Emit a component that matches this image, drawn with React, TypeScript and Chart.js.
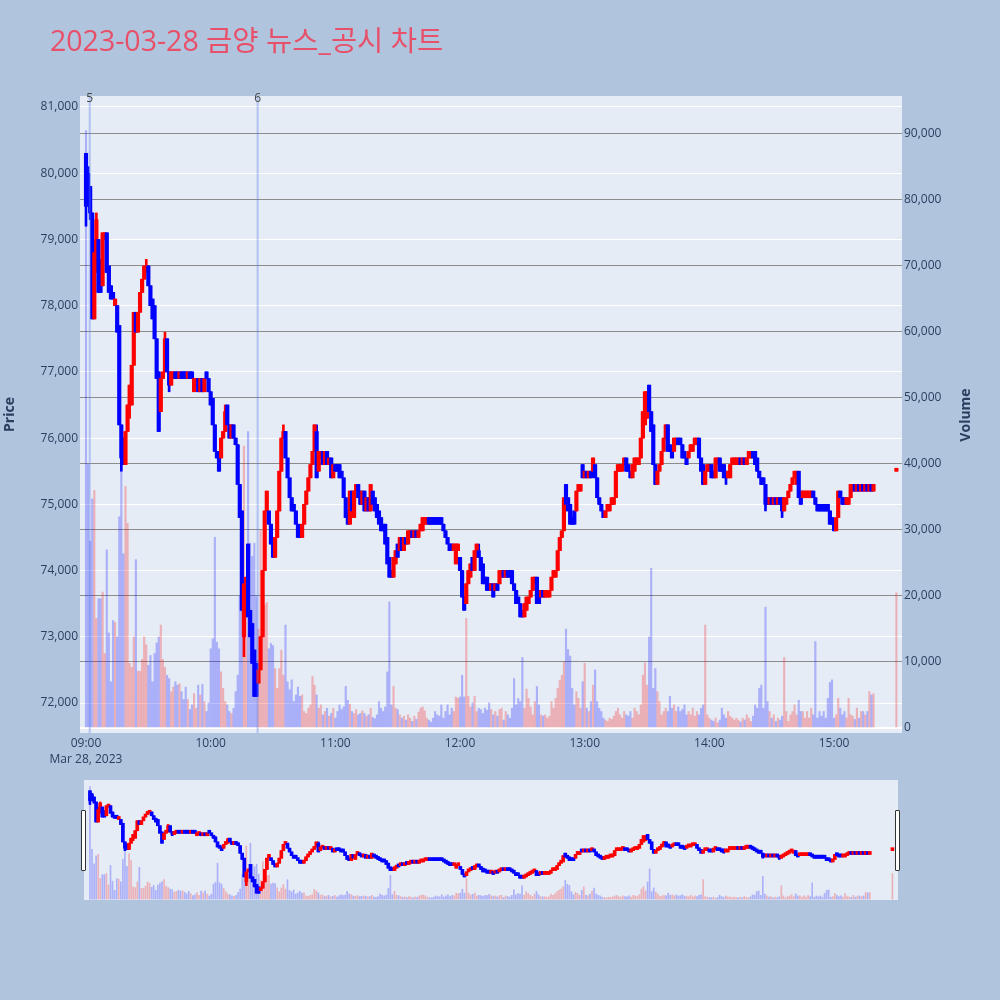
import React, { useEffect, useRef } from 'react';
import { Chart, registerables } from 'chart.js';

Chart.register(...registerables);

const TITLE = '2023-03-28 금양 뉴스_공시 차트';
const DATE_LABEL = 'Mar 28, 2023';
const PRICE_UNIT = 100; // prices below are stored in units of 100 KRW

// minutes after 09:00 (continuous session 09:00-15:19, closing auction at 15:30)
const minutesFromOpen: number[] = [...Array.from({ length: 380 }, (_, i) => i), 390];

const opens = [
  803,800,798,794,778,786,790,787,783,790, 791,786,783,782,780,780,777,762,760,756,
  761,765,765,771,779,776,779,782,784,785, 786,783,781,780,775,770,764,769,770,775,
  770,768,769,770,770,769,770,770,770,769, 770,770,767,768,769,767,769,767,770,769,
  767,766,762,758,758,757,760,761,765,762, 760,762,760,759,753,749,730,738,744,734,
  732,728,726,723,725,730,740,749,749,747, 744,742,745,749,755,760,761,757,754,751,
  750,749,747,746,745,747,750,752,754,756, 758,761,755,757,758,756,758,756,757,754,
  756,756,756,755,754,751,749,747,752,748, 752,753,752,750,752,749,751,749,752,751,
  750,749,748,747,747,745,742,740,739,741, 744,743,745,743,745,744,745,746,745,746,
  745,746,746,747,747,748,748,748,748,748, 748,748,747,746,745,744,744,743,741,743,
  742,740,736,735,738,739,742,740,742,743, 742,741,739,739,738,737,738,737,738,738,
  739,740,739,740,740,740,738,737,736,735, 734,733,734,735,736,737,738,739,737,736,
  737,736,736,736,737,739,739,740,743,745, 746,753,751,750,748,749,749,752,752,756,
  754,755,754,755,755,756,754,751,750,749, 748,749,749,750,750,751,755,755,755,756,
  757,756,755,754,755,756,756,757,760,762, 763,768,764,762,756,753,755,756,758,760,
  762,759,758,758,759,760,760,759,758,757, 757,758,758,759,759,760,757,756,753,755,
  755,756,755,754,756,757,756,756,755,754, 754,756,756,756,756,757,756,757,756,757,
  757,758,758,757,755,754,754,753,751,750, 751,750,751,750,751,751,749,750,751,752,
  753,754,753,755,752,751,751,751,751,751, 752,751,750,750,750,750,750,750,749,748,
  747,746,748,752,751,751,750,750,751,752, 753,752,753,752,753,752,753,752,753,752,
  755,
];

const highs = [
  803,801,798,794,790,794,790,787,791,791, 791,786,783,782,781,780,777,762,760,761,
  765,768,771,779,779,779,782,784,786,787, 786,783,781,780,775,770,769,770,776,775,
  770,770,770,770,770,770,770,770,770,770, 770,770,769,769,769,769,769,769,770,769,
  767,766,762,758,758,760,761,765,765,762, 762,762,760,759,753,749,738,739,744,734,
  732,728,726,725,730,740,749,752,749,747, 744,745,749,755,760,762,761,757,754,751,
  750,749,747,746,747,750,752,754,756,758, 762,762,758,758,758,758,758,757,757,756,
  756,756,756,755,754,751,749,752,752,752, 753,753,752,752,752,751,751,753,752,751,
  750,749,748,747,747,745,742,740,742,743, 744,745,745,745,745,746,746,746,746,746,
  746,747,748,748,748,748,748,748,748,748, 748,748,747,746,745,744,744,744,744,744,
  742,740,736,738,740,741,742,743,744,744, 742,741,739,739,738,738,738,738,738,740,
  740,740,740,740,740,740,738,737,736,735, 734,735,736,736,737,739,739,739,737,737,
  737,737,737,737,739,740,740,743,745,746, 751,753,751,750,748,749,752,753,753,756,
  755,755,755,755,757,756,754,751,750,749, 749,750,750,751,751,755,756,756,756,757,
  757,756,755,756,757,757,757,760,764,767, 767,768,764,762,756,755,756,758,760,762,
  762,759,758,760,760,760,760,759,758,757, 758,759,759,760,760,760,757,756,755,756,
  756,756,755,757,757,757,756,756,755,755, 756,757,757,757,757,757,757,757,757,758,
  758,758,758,757,755,754,754,753,751,751, 751,751,751,751,751,751,751,751,752,753,
  754,755,755,755,752,752,752,752,752,752, 752,751,750,750,750,750,750,750,749,748,
  747,748,752,752,751,751,751,751,753,753, 753,753,753,753,753,753,753,753,753,753,
  755,
];

const lows = [
  792,795,793,778,778,785,782,782,783,790, 785,782,781,781,780,776,762,755,756,756,
  761,763,765,771,776,776,779,782,784,785, 783,780,778,775,769,761,764,769,770,770,
  767,768,769,769,769,769,769,769,769,769, 769,769,767,768,767,767,767,767,769,767,
  765,762,758,757,755,757,760,761,762,760, 760,760,759,753,748,734,727,738,733,730,
  726,721,721,723,725,730,740,749,747,744, 742,742,745,749,755,760,757,754,751,749,
  749,747,745,745,745,747,750,752,754,756, 758,754,755,757,756,756,756,756,754,754,
  755,755,754,754,751,748,747,747,749,748, 752,751,750,750,749,749,749,749,750,749,
  748,747,746,746,744,741,739,739,739,741, 742,743,743,743,744,744,745,745,745,745,
  745,746,746,747,747,747,747,747,747,747, 747,747,746,745,744,743,743,743,741,743,
  740,736,734,735,738,739,740,740,742,742, 740,738,738,737,737,737,736,737,737,738,
  739,739,739,739,739,738,737,735,735,733, 733,733,734,735,736,737,738,735,735,736,
  736,736,736,736,737,739,739,740,743,745, 746,750,749,747,747,747,749,752,752,754,
  754,754,754,754,755,754,751,750,749,748, 748,749,749,750,750,751,755,755,755,756,
  755,755,754,754,755,756,756,757,760,762, 763,764,761,756,753,753,755,756,758,760,
  758,758,757,758,759,759,759,757,757,756, 757,758,758,759,759,757,755,753,753,755,
  755,754,754,754,756,755,755,754,753,754, 754,756,756,756,756,756,756,756,756,757,
  757,757,756,755,754,753,753,749,750,750, 750,750,750,750,750,748,749,750,751,752,
  753,754,753,751,750,751,751,751,751,751, 751,750,749,749,749,749,749,749,747,747,
  746,746,748,751,750,750,750,750,751,752, 752,752,752,752,752,752,752,752,752,752,
  755,
];

const closes = [
  795,796,794,778,788,793,782,782,791,791, 785,782,781,781,781,776,762,757,756,761,
  765,768,771,779,776,779,782,784,786,786, 783,780,778,775,769,761,769,770,775,770,
  768,770,770,769,769,770,769,769,769,770, 769,769,769,769,767,769,767,769,769,767,
  765,762,758,757,755,760,761,764,762,760, 762,760,759,753,748,734,738,739,733,730,
  726,721,721,725,730,740,749,752,747,744, 742,745,749,755,760,761,757,754,751,749,
  749,747,745,745,747,750,752,754,756,758, 762,754,758,758,756,758,756,757,754,756,
  755,755,754,754,751,748,747,752,749,752, 753,751,750,752,749,751,749,753,750,749,
  748,747,746,746,744,741,739,739,742,743, 742,745,743,745,744,746,746,745,746,745,
  746,747,748,748,748,747,747,747,747,747, 747,747,746,745,744,743,743,744,744,744,
  740,736,734,738,740,741,740,743,744,742, 740,738,738,737,737,738,736,738,737,740,
  740,739,740,739,739,738,737,735,735,733, 733,735,736,736,737,739,739,735,735,737,
  736,737,737,737,739,740,740,743,745,746, 751,750,749,747,747,747,752,753,753,754,
  755,754,755,754,757,754,751,750,749,748, 749,750,750,751,751,755,756,756,756,757,
  755,755,754,756,757,757,757,760,764,767, 767,764,761,756,753,755,756,758,760,762,
  758,758,757,760,760,759,759,757,757,756, 758,759,759,760,760,757,755,753,755,756,
  756,754,754,757,757,755,755,754,754,755, 756,757,757,757,757,756,757,756,757,758,
  758,757,756,755,754,753,753,750,750,751, 750,751,750,751,750,749,751,751,752,753,
  754,755,755,751,750,752,752,752,752,752, 751,750,749,749,749,749,749,749,747,747,
  746,748,752,751,750,750,751,751,753,753, 752,753,752,753,752,753,752,753,752,753,
  755,
];

const volumes = [
  90500,40000,28300,34700,36000,16600,19600,19600,20600,11300,
  27000,14400,7000,16300,16000,13800,32000,39400,26400,36600,
  31000,9800,9200,13800,25500,8600,8600,10400,13800,12600,
  9500,11000,7000,11300,12900,13800,15600,10400,9200,8000,
  7500,5500,6200,7000,6500,6700,5500,4300,6200,4300,
  2800,3500,5200,3000,6500,5000,6600,4000,2500,3800,
  12000,13500,28900,13000,12000,8500,6000,4000,3500,2500,
  2200,3000,5500,8000,20000,28000,42700,20000,44900,28000,
  26000,28000,20000,15000,30000,20000,18600,19000,12000,12800,
  12500,9000,6000,9000,11800,8000,15600,7000,5800,7300,
  4000,5000,6200,4800,5000,2500,2200,3000,3500,7800,
  6500,5000,3000,3500,2000,2500,3000,1800,2200,3000,
  1500,2500,3500,2800,3200,6300,4200,3600,2500,2200,
  2800,2000,2200,2600,2200,1800,2000,3000,1600,1400,
  2000,4000,3000,2500,3200,8500,19100,3500,6300,3000,
  2800,2000,1500,1800,1200,2000,1500,1000,1800,1300,
  2400,3000,3200,2600,1500,1200,900,1500,2500,2000,
  1800,3500,1500,2500,3500,2000,3000,2500,4700,4500,
  4700,8000,4700,16600,4800,3200,3800,4800,2500,3000,
  2800,2200,3000,2700,3800,2800,2000,2500,1800,2800,
  3000,1200,2500,2000,1500,3000,7500,3500,4500,4000,
  10700,3000,5900,4500,3200,2000,4000,6300,3500,2000,
  1800,2000,1500,1800,4000,3000,4500,6000,7200,8000,
  10000,15000,11900,10900,6000,3500,5500,4500,3000,7000,
  9800,3000,2500,4000,6500,8800,4000,3000,2500,1500,
  1200,1000,1500,1300,1800,2500,3000,2000,1500,2500,
  2000,1800,2500,1500,3000,2500,2000,3500,8000,9900,
  6500,13800,24200,6000,9000,5500,4000,2000,2500,3000,
  2500,4800,3000,3500,2500,3200,2500,2800,3500,2000,
  2500,2000,3000,1800,2500,2000,3000,3500,15600,2000,
  1500,1200,1000,1500,800,1200,3000,2000,1500,2500,
  1800,1500,1200,1500,1200,900,1500,1200,2000,1500,
  1000,1800,3500,3000,6000,6500,3000,18300,4000,2500,
  1500,2000,1000,1500,1200,1800,10700,2500,1000,2000,
  2500,3500,2000,4200,2500,2500,1500,2500,1500,3000,
  2000,13100,1500,2500,1800,2500,1500,4500,6900,7300,
  1500,2000,4500,3000,2000,2500,1500,4500,2000,1800,
  1300,3000,1500,2500,2500,2000,2500,5500,5000,5200,
  20500,
];

const timeTicks = [0, 60, 120, 180, 240, 300, 360];
const timeTickLabels = ['09:00', '10:00', '11:00', '12:00', '13:00', '14:00', '15:00'];
const priceTicks = [72000, 73000, 74000, 75000, 76000, 77000, 78000, 79000, 80000, 81000];
const volumeTicks = [0, 10000, 20000, 30000, 40000, 50000, 60000, 70000, 80000, 90000];

// news/disclosure markers (minutes after 09:00)
const markerMinutes = [1.8, 82.6];
const markerLabels = ['5', '6'];

const X_MIN = -2.89;
const X_MAX = 392.7;
const PRICE_MIN = 71547;
const PRICE_MAX = 81166;
const VOL_MIN = -757;
const VOL_MAX = 95750;

const PAPER_BG = '#B0C4DE';
const PLOT_BG = '#E5ECF6';
const AXIS_COLOR = '#2a3f5f';
const UP = '#FF0000';
const DOWN = '#0000FF';
const UP_VOL = 'rgba(255,0,0,0.25)';
const DOWN_VOL = 'rgba(0,0,255,0.25)';
const FONT = "'Open Sans', 'Noto Sans CJK KR', sans-serif";

function buildDatasets(mini: boolean): any[] {
  const isUp = minutesFromOpen.map((_, i) => closes[i] >= opens[i]);
  const candleColors = isUp.map((u) => (u ? UP : DOWN));
  const volColors = isUp.map((u) => (u ? UP_VOL : DOWN_VOL));
  const wicks = minutesFromOpen.map((m, i) => ({ x: m, y: [lows[i] * PRICE_UNIT, highs[i] * PRICE_UNIT] }));
  const bodies = minutesFromOpen.map((m, i) => ({
    x: m,
    y: [Math.min(opens[i], closes[i]) * PRICE_UNIT, Math.max(opens[i], closes[i]) * PRICE_UNIT],
  }));
  const vols = minutesFromOpen.map((m, i) => ({ x: m, y: volumes[i] }));
  return [
    {
      type: 'bar', label: 'Volume', data: vols, yAxisID: 'y2', backgroundColor: volColors,
      barThickness: mini ? 1 : 1.5, grouped: false, order: 3, borderWidth: 0,
    },
    {
      type: 'bar', label: 'wick', data: wicks, yAxisID: 'y', backgroundColor: candleColors,
      barThickness: 2, minBarLength: 2, grouped: false, order: 2, borderWidth: 0,
    },
    {
      type: 'bar', label: 'Price', data: bodies, yAxisID: 'y', backgroundColor: candleColors,
      barThickness: mini ? 3 : 3.5, minBarLength: 3, grouped: false, order: 1, borderWidth: 0,
    },
  ];
}

const plotBgPlugin = {
  id: 'plotBg',
  beforeDraw(chart: any) {
    const { ctx, chartArea: a } = chart;
    ctx.save();
    ctx.fillStyle = PLOT_BG;
    ctx.fillRect(a.left, a.top, a.right - a.left, a.bottom - a.top);
    ctx.restore();
  },
};

const markerPlugin = {
  id: 'markers',
  afterDatasetsDraw(chart: any) {
    const { ctx, chartArea: a, scales } = chart;
    ctx.save();
    markerMinutes.forEach((m, i) => {
      const px = scales.x.getPixelForValue(m);
      ctx.strokeStyle = 'rgba(90,125,235,0.38)';
      ctx.lineWidth = 2;
      ctx.beginPath();
      ctx.moveTo(px, a.top);
      ctx.lineTo(px, a.bottom);
      ctx.stroke();
      ctx.fillStyle = '#444';
      ctx.font = `12px ${FONT}`;
      ctx.textAlign = 'center';
      ctx.textBaseline = 'alphabetic';
      ctx.fillText(markerLabels[i], px, a.top + 5.5);
    });
    ctx.restore();
  },
};

const textPlugin = {
  id: 'texts',
  afterDraw(chart: any) {
    const { ctx } = chart;
    ctx.save();
    ctx.fillStyle = '#E8506A';
    ctx.font = `28.5px ${FONT}`;
    ctx.textAlign = 'left';
    ctx.textBaseline = 'alphabetic';
    ctx.fillText(TITLE, 50, 51);
    ctx.translate(966, 415);
    ctx.rotate(-Math.PI / 2);
    ctx.fillStyle = AXIS_COLOR;
    ctx.font = `bold 14px ${FONT}`;
    ctx.textAlign = 'center';
    ctx.textBaseline = 'middle';
    ctx.fillText('Volume', 0, 0);
    ctx.restore();
  },
};

const miniBgPlugin = {
  id: 'miniBg',
  beforeDraw(chart: any) {
    const { ctx, width, height } = chart;
    ctx.save();
    ctx.fillStyle = PLOT_BG;
    ctx.fillRect(0, 0, width, height);
    ctx.restore();
  },
};

const fmt = (v: number) => Math.round(v).toLocaleString('en-US');

export default function App() {
  const mainRef = useRef<HTMLCanvasElement | null>(null);
  const miniRef = useRef<HTMLCanvasElement | null>(null);

  useEffect(() => {
    if (!mainRef.current || !miniRef.current) return;
    const tickFont = { family: FONT, size: 12 };
    const main = new Chart(mainRef.current, {
      type: 'bar',
      data: { datasets: buildDatasets(false) },
      options: {
        responsive: false,
        maintainAspectRatio: false,
        animation: false,
        events: [],
        layout: { padding: { top: 96, left: 0, right: 0, bottom: 0 } },
        plugins: { legend: { display: false }, tooltip: { enabled: false }, title: { display: false } },
        scales: {
          x: {
            type: 'linear', min: X_MIN, max: X_MAX, offset: false,
            grid: { display: false, drawTicks: false }, border: { display: false },
            ticks: {
              autoSkip: false, maxRotation: 0, minRotation: 0, padding: 3, color: AXIS_COLOR,
              font: { ...tickFont, lineHeight: 1.3 },
              callback: (v: any) => {
                const idx = timeTicks.indexOf(Number(v));
                if (idx < 0) return '';
                return idx === 0 ? [timeTickLabels[idx], DATE_LABEL] : timeTickLabels[idx];
              },
            },
            afterBuildTicks: (s: any) => { s.ticks = timeTicks.map((v) => ({ value: v })); },
            afterFit: (s: any) => { s.height = 42; },
          },
          y: {
            position: 'left', min: PRICE_MIN, max: PRICE_MAX,
            grid: { color: '#FFFFFF', lineWidth: 1, drawTicks: false }, border: { display: false },
            ticks: { padding: 2, color: AXIS_COLOR, font: tickFont, callback: (v: any) => fmt(Number(v)) },
            title: { display: true, text: 'Price', color: AXIS_COLOR, font: { family: FONT, size: 14, weight: 'bold' }, padding: { top: 2, bottom: 0 } },
            afterBuildTicks: (s: any) => { s.ticks = priceTicks.map((v) => ({ value: v })); },
            afterFit: (s: any) => { s.width = 80; },
          },
          y2: {
            position: 'right', min: VOL_MIN, max: VOL_MAX,
            grid: {
              drawTicks: false,
              color: (c: any) => (c.tick && c.tick.value === 0 ? '#FFFFFF' : '#8c8c8c'),
              lineWidth: (c: any) => (c.tick && c.tick.value === 0 ? 2 : 1),
            },
            border: { display: false },
            ticks: { padding: 2, color: AXIS_COLOR, font: tickFont, callback: (v: any) => fmt(Number(v)) },
            afterBuildTicks: (s: any) => { s.ticks = volumeTicks.map((v) => ({ value: v })); },
            afterFit: (s: any) => { s.width = 98; },
          },
        },
      } as any,
      plugins: [plotBgPlugin, markerPlugin, textPlugin],
    });

    const mini = new Chart(miniRef.current, {
      type: 'bar',
      data: { datasets: buildDatasets(true) },
      options: {
        responsive: false,
        maintainAspectRatio: false,
        animation: false,
        events: [],
        layout: { padding: 0 },
        plugins: { legend: { display: false }, tooltip: { enabled: false } },
        scales: {
          x: { type: 'linear', display: false, min: X_MIN, max: X_MAX, offset: false },
          y: { display: false, min: PRICE_MIN, max: PRICE_MAX },
          y2: { display: false, min: VOL_MIN, max: VOL_MAX },
        },
      } as any,
      plugins: [miniBgPlugin],
    });

    return () => {
      main.destroy();
      mini.destroy();
    };
  }, []);

  const handle = (left: number): React.CSSProperties => ({
    position: 'absolute', left, top: 810, width: 3, height: 59,
    background: '#FFFFFF', border: '1px solid #333', borderRadius: 1,
  });

  return (
    <div style={{ position: 'absolute', left: 0, top: 0, width: 1000, height: 1000, background: PAPER_BG, overflow: 'hidden' }}>
      <canvas ref={mainRef} width={1000} height={775} style={{ position: 'absolute', left: 0, top: 0, display: 'block' }} />
      <canvas ref={miniRef} width={814} height={120} style={{ position: 'absolute', left: 84, top: 780, display: 'block' }} />
      <div style={handle(81)} />
      <div style={handle(895)} />
    </div>
  );
}
